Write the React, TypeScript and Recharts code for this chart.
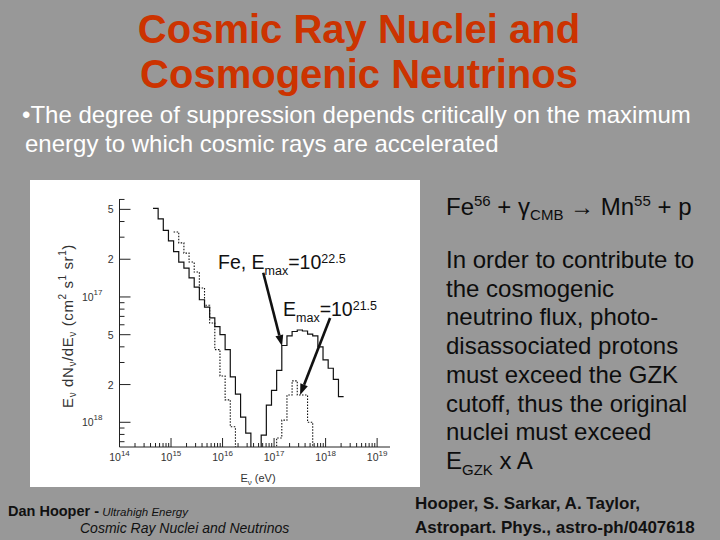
import { LineChart, Line, XAxis, YAxis, ReferenceLine } from 'recharts'

const FONT = '"Liberation Sans", Arial, sans-serif'
const NARROW = '"Liberation Sans Narrow", "Liberation Sans", Arial, sans-serif'
const TITLE_RED = '#cc3300'
const SLIDE_GRAY = '#989898'

// histogram bin edges, log10(E_nu / eV), 0.1 decade wide
const binEdges = [
  14.65, 14.75, 14.85, 14.95, 15.05, 15.15, 15.25, 15.35, 15.45, 15.55,
  15.65, 15.75, 15.85, 15.95, 16.05, 16.15, 16.25, 16.35, 16.45, 16.55,
  16.65, 16.75, 16.85, 16.95, 17.05, 17.15, 17.25, 17.35, 17.45, 17.55,
  17.65, 17.75, 17.85, 17.95, 18.05, 18.15, 18.25, 18.35,
]

// Fe, Emax = 10^22.5  (solid)
const fluxEmax225 = [
  5.1e-17, 4.2e-17, 3.4e-17, 2.8e-17, 2.3e-17, 1.9e-17, 1.7e-17, 1.42e-17, 1.2e-17, 9.5e-18,
  8.3e-18, 6.8e-18, 5.8e-18, 5.0e-18, 3.8e-18, 2.3e-18, 1.68e-18, 1.1e-18, 8.2e-19, 4e-19,
  4e-19, 7.9e-19, 1.37e-18, 1.8e-18, 2.6e-18, 4.1e-18, 4.9e-18, 5.3e-18, 5.45e-18, 5.35e-18,
  5.05e-18, 4.9e-18, 4.0e-18, 3.15e-18, 2.7e-18, 2.2e-18, 1.6e-18,
]

// Emax = 10^21.5  (dotted)
const fluxEmax215 = [
  null, null, null, null, 3.3e-17, 2.7e-17, 2.24e-17, 1.9e-17, 1.58e-17, 1.18e-17,
  8.6e-18, 6.2e-18, 3.8e-18, 2.34e-18, 1.51e-18, 9.2e-19, 4e-19, 4e-19, 4e-19, 4e-19,
  4e-19, 4e-19, 4e-19, 4e-19, 7.5e-19, 1.04e-18, 1.65e-18, 2.14e-18, 1.65e-18, 1.65e-18,
  1.0e-18, 4e-19, null, null, null, null, null,
]

const xDecades = [14, 15, 16, 17, 18, 19]
const yDecades = [-19, -18, -17]
const yLabelled = [1, 2, 5]

const X_DOMAIN = [14, 19.25]
const Y_DOMAIN = [6.35e-19, 6.05e-17]

const toPoints = (flux: (number | null)[]) =>
  binEdges.map((x, i) => ({ x, y: i < flux.length ? flux[i] : flux[flux.length - 1] }))

const solidPts = toPoints(fluxEmax225)
const dottedPts = toPoints(fluxEmax215)

const xTicks: number[] = []
xDecades.forEach((d) => {
  for (let m = 1; m <= 9; m++) {
    const v = d + Math.log10(m)
    if (v <= X_DOMAIN[1]) xTicks.push(v)
  }
})

const yTicks: number[] = []
yDecades.forEach((d) => {
  for (let m = 1; m <= 9; m++) {
    const v = m * Math.pow(10, d)
    if (v >= Y_DOMAIN[0] && v <= Y_DOMAIN[1]) yTicks.push(v)
  }
})

const mantissa = (v: number) => {
  const e = Math.floor(Math.log10(v) + 1e-9)
  return { m: Math.round(v / Math.pow(10, e)), e }
}

const tickText = { fontFamily: FONT, fill: '#333' }

function BottomTick({ x, y, payload }: any) {
  const v = payload.value
  const major = Math.abs(v - Math.round(v)) < 1e-9
  return (
    <g>
      <line x1={x} x2={x} y1={y} y2={y - (major ? 9 : 4)} stroke="#222" />
      {major && (
        <text x={x} y={y + 14} textAnchor="middle" fontSize={10.5} {...tickText}>
          10<tspan dy={-5} fontSize={8}>{Math.round(v)}</tspan>
        </text>
      )}
    </g>
  )
}

function TopTick({ x, y, payload }: any) {
  const v = payload.value
  const major = Math.abs(v - Math.round(v)) < 1e-9
  return <line x1={x} x2={x} y1={y} y2={y + (major ? 9 : 4)} stroke="#222" />
}

function LeftTick({ x, y, payload }: any) {
  const { m, e } = mantissa(payload.value)
  const big = yLabelled.includes(m)
  return (
    <g>
      <line x1={x} x2={x + (big ? 11 : 5)} y1={y} y2={y} stroke="#222" />
      {m === 1 ? (
        <text x={x - 17} y={y + 4} textAnchor="end" fontSize={10.5} {...tickText}>
          10<tspan dy={-6} fontSize={8}>{Math.abs(e)}</tspan>
        </text>
      ) : big ? (
        <text x={x - 6} y={y + 4} textAnchor="end" fontSize={10.5} {...tickText}>
          {m}
        </text>
      ) : null}
    </g>
  )
}

function RightTick({ x, y, payload }: any) {
  const { m } = mantissa(payload.value)
  const big = yLabelled.includes(m)
  return <line x1={x} x2={x - (big ? 10 : 4)} y1={y} y2={y} stroke="#222" />
}

function Arrow(props: any) {
  const { x1, y1, x2, y2 } = props
  const a = Math.atan2(y2 - y1, x2 - x1)
  const L = 11
  const W = 4
  const bx = x2 - L * Math.cos(a)
  const by = y2 - L * Math.sin(a)
  const px = -Math.sin(a) * W
  const py = Math.cos(a) * W
  return (
    <g>
      <line x1={x1} y1={y1} x2={bx} y2={by} stroke="#111" strokeWidth={2.6} />
      <polygon points={`${x2},${y2} ${bx + px},${by + py} ${bx - px},${by - py}`} fill="#111" />
    </g>
  )
}

function NeutrinoFluxChart() {
  return (
    <div style={{ position: 'absolute', left: 30, top: 180, width: 390, height: 307, background: '#fff' }}>
      <LineChart width={390} height={307} margin={{ top: 19, right: 30, bottom: 0, left: 0 }}>
        <XAxis
          xAxisId="b"
          dataKey="x"
          type="number"
          domain={X_DOMAIN}
          allowDataOverflow
          ticks={xTicks}
          interval={0}
          height={40}
          tickSize={0}
          tickMargin={0}
          tickLine={false}
          axisLine={{ stroke: '#222' }}
          tick={<BottomTick />}
        />
        <XAxis
          xAxisId="t"
          orientation="top"
          dataKey="x"
          type="number"
          domain={X_DOMAIN}
          allowDataOverflow
          ticks={xTicks}
          interval={0}
          height={0}
          tickSize={0}
          tickMargin={0}
          tickLine={false}
          axisLine={{ stroke: '#222' }}
          tick={<TopTick />}
        />
        <YAxis
          yAxisId="l"
          type="number"
          scale="log"
          domain={Y_DOMAIN}
          allowDataOverflow
          ticks={yTicks}
          interval={0}
          width={89.5}
          tickSize={0}
          tickMargin={0}
          tickLine={false}
          axisLine={{ stroke: '#222' }}
          tick={<LeftTick />}
        />
        <YAxis
          yAxisId="r"
          orientation="right"
          type="number"
          scale="log"
          domain={Y_DOMAIN}
          allowDataOverflow
          ticks={yTicks}
          interval={0}
          width={0}
          tickSize={0}
          tickMargin={0}
          tickLine={false}
          axisLine={{ stroke: '#222' }}
          tick={<RightTick />}
        />
        <Line
          xAxisId="b"
          yAxisId="l"
          data={dottedPts}
          dataKey="y"
          type="stepAfter"
          stroke="#111"
          strokeWidth={1.1}
          strokeDasharray="1.5 1.5"
          dot={false}
          connectNulls={false}
          isAnimationActive={false}
        />
        <Line
          xAxisId="b"
          yAxisId="l"
          data={solidPts}
          dataKey="y"
          type="stepAfter"
          stroke="#111"
          strokeWidth={1.2}
          dot={false}
          connectNulls={false}
          isAnimationActive={false}
        />
        <ReferenceLine
          xAxisId="b"
          yAxisId="l"
          segment={[{ x: 16.79, y: 1.56e-17 }, { x: 17.155, y: 4.06e-18 }]}
          shape={Arrow}
        />
        <ReferenceLine
          xAxisId="b"
          yAxisId="l"
          segment={[{ x: 18.087, y: 6.8e-18 }, { x: 17.505, y: 1.65e-18 }]}
          shape={Arrow}
        />
      </LineChart>
      <svg width={390} height={307} style={{ position: 'absolute', left: 0, top: 0, pointerEvents: 'none' }}>
        <g fontFamily={FONT} fill="#111">
          <text x={188} y={89} fontSize={19.5}>
            Fe, E<tspan dy={6} fontSize={12.5}>max</tspan>
            <tspan dy={-6}>=10</tspan>
            <tspan dy={-6} fontSize={12.5}>22.5</tspan>
          </text>
          <text x={253} y={136} fontSize={19.5}>
            E<tspan dy={6} fontSize={12.5}>max</tspan>
            <tspan dy={-6}>=10</tspan>
            <tspan dy={-6} fontSize={12.5}>21.5</tspan>
          </text>
        </g>
        <g fontFamily={FONT} fill="#333">
          <text x={228} y={302} textAnchor="middle" fontSize={11}>
            E<tspan dy={3} fontSize={8}>ν</tspan>
            <tspan dy={-3}> (eV)</tspan>
          </text>
          <text transform="translate(43,146) rotate(-90)" textAnchor="middle" fontSize={15} letterSpacing={0.6}>
            E<tspan dy={3} fontSize={10}>ν</tspan>
            <tspan dy={-3}> dN</tspan>
            <tspan dy={3} fontSize={10}>ν</tspan>
            <tspan dy={-3}>/dE</tspan>
            <tspan dy={3} fontSize={10}>ν</tspan>
            <tspan dy={-3}> (cm</tspan>
            <tspan dy={-7} fontSize={10}>2</tspan>
            <tspan dy={7}> s</tspan>
            <tspan dy={-7} fontSize={10}>1</tspan>
            <tspan dy={7}> sr</tspan>
            <tspan dy={-7} fontSize={10}>1</tspan>
            <tspan dy={7}>)</tspan>
          </text>
        </g>
      </svg>
    </div>
  )
}

export default function App() {
  const body = { fontFamily: FONT, fontSize: 24, fill: '#0d0d0d' }
  const rightLines = [
    'In order to contribute to',
    'the cosmogenic',
    'neutrino flux, photo-',
    'disassociated protons',
    'must exceed the GZK',
    'cutoff, thus the original',
    'nuclei must exceed',
  ]
  return (
    <div style={{ position: 'absolute', left: 0, top: 0, width: 720, height: 540, background: SLIDE_GRAY, overflow: 'hidden' }}>
      <svg width={720} height={540} style={{ position: 'absolute', left: 0, top: 0 }}>
        <g fontFamily={FONT} fontWeight="bold" fontSize={40} fill={TITLE_RED} textAnchor="middle">
          <text x={359} y={43}>Cosmic Ray Nuclei and</text>
          <text x={359} y={88}>Cosmogenic Neutrinos</text>
        </g>
        <g fontFamily={FONT} fontSize={24} fill="#fff">
          <text x={22} y={123}>•The degree of suppression depends critically on the maximum</text>
          <text x={25} y={152}>energy to which cosmic rays are accelerated</text>
        </g>
        <text x={446} y={215} {...body}>
          Fe<tspan dy={-9} fontSize={15}>56</tspan>
          <tspan dy={9}> + γ</tspan>
          <tspan dy={5} fontSize={15}>CMB</tspan>
          <tspan dy={-5}> → Mn</tspan>
          <tspan dy={-9} fontSize={15}>55</tspan>
          <tspan dy={9}> + p</tspan>
        </text>
        {rightLines.map((t, i) => (
          <text key={t} x={446} y={268 + i * 28.7} {...body}>{t}</text>
        ))}
        <text x={446} y={469} {...body}>
          E<tspan dy={6} fontSize={15}>GZK</tspan>
          <tspan dy={-6}> x A</tspan>
        </text>
        <g fontFamily={FONT} fill="#111">
          <text x={8} y={516} fontSize={14.5} fontWeight="bold">
            Dan Hooper -
            <tspan fontWeight="normal" fontStyle="italic" fontSize={11.5}> Ultrahigh Energy</tspan>
          </text>
          <text x={80} y={533} fontSize={14} fontStyle="italic">Cosmic Ray Nuclei and Neutrinos</text>
        </g>
        <g fontFamily={NARROW} fontWeight="bold" fontSize={17} fill="#111">
          <text x={415} y={509}>Hooper, S. Sarkar, A. Taylor,</text>
          <text x={415} y={533}>Astropart. Phys., astro-ph/0407618</text>
        </g>
      </svg>
      <NeutrinoFluxChart />
    </div>
  )
}
